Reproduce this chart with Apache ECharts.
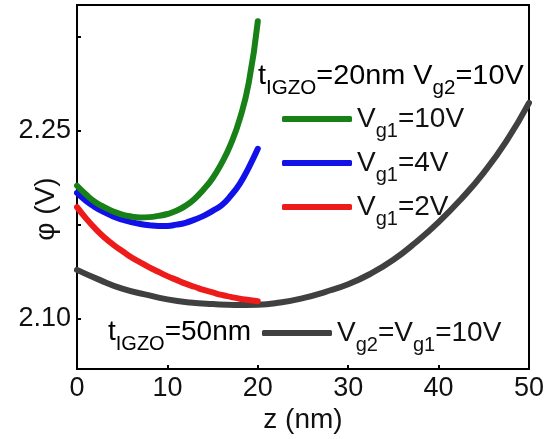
<!DOCTYPE html>
<html>
<head>
<meta charset="utf-8">
<script src="https://cdn.jsdelivr.net/npm/echarts@6/dist/echarts.min.js"></script>
<style>
  html, body { margin: 0; padding: 0; background: #fff; }
  #chart { width: 559px; height: 439px; }
</style>
</head>
<body>
<div id="chart"></div>
<script>
// values: z in nm, phi in V
const zShort = [0, 1, 2, 3, 4, 5, 6, 7, 8, 9, 10, 11, 12, 13, 14, 15, 16, 17, 18, 19, 20];
const phiGreen = [2.206, 2.199, 2.193, 2.189, 2.1855, 2.183, 2.1815, 2.1808, 2.181, 2.182, 2.1835,
  2.186, 2.190, 2.1955, 2.203, 2.212, 2.224, 2.239, 2.259, 2.288, 2.337];
const phiBlue = [2.2003, 2.194, 2.189, 2.185, 2.1815, 2.179, 2.177, 2.1755, 2.1745, 2.174, 2.174,
  2.175, 2.1765, 2.179, 2.182, 2.186, 2.1905, 2.198, 2.2075, 2.2205, 2.2354];
const phiRed = [2.189, 2.180, 2.172, 2.165, 2.159, 2.154, 2.149, 2.145, 2.141, 2.1375, 2.134,
  2.131, 2.128, 2.1255, 2.123, 2.121, 2.119, 2.1175, 2.116, 2.115, 2.114];

const zLong = [0, 2.5, 5, 7.5, 10, 12.5, 15, 17.5, 20, 22.5, 25, 27.5, 30, 32.5, 35, 37.5, 40, 42.5, 45, 47.5, 50];
const phiBlack = [2.139, 2.131, 2.124, 2.1195, 2.1155, 2.113, 2.1117, 2.111, 2.1112, 2.113, 2.1165,
  2.1215, 2.1275, 2.136, 2.147, 2.161, 2.177, 2.1955, 2.2165, 2.2415, 2.272];

const xTicks = [0, 10, 20, 30, 40, 50];
const yLabels = [2.10, 2.25];
const yTicks = [2.10, 2.175, 2.25, 2.325];

const FONT = 'Liberation Sans, Arial, sans-serif';
const rich = {
  n: { fontSize: 28, fontFamily: FONT, color: '#111', lineHeight: 42 },
  s: { fontSize: 20, fontFamily: FONT, color: '#111', lineHeight: 18, padding: [24, 0, 0, 0] }
};

const legendText = {
  'Vg1=10V': '{n|V}{s|g1}{n|=10V}',
  'Vg1=4V': '{n|V}{s|g1}{n|=4V}',
  'Vg1=2V': '{n|V}{s|g1}{n|=2V}',
  'tIGZO=50nm': '{n|V}{s|g2}{n|=V}{s|g1}{n|=10V}'
};

const pairs = (xs, ys) => xs.map((x, i) => [x, ys[i]]);

const lineSeries = (name, color, xs, ys) => ({
  name,
  type: 'line',
  smooth: 0.5,
  showSymbol: false,
  color,
  lineStyle: { width: 6, color, cap: 'round' },
  data: pairs(xs, ys)
});

const chart = echarts.init(document.getElementById('chart'));

chart.setOption({
  animation: false,
  backgroundColor: '#fff',
  grid: {
    left: 77, top: 5, right: 30, bottom: 70,
    outerBoundsMode: 'none',
    containLabel: false,
    show: true, borderColor: '#000', borderWidth: 2
  },
  xAxis: {
    type: 'value', min: 0, max: 50, interval: 10,
    name: 'z (nm)', nameLocation: 'middle', nameGap: 37, nameMoveOverlap: false,
    nameTextStyle: { fontSize: 28, fontFamily: FONT, color: '#111' },
    axisLine: { show: true, lineStyle: { color: '#000', width: 2 } },
    axisTick: { show: true, inside: true, length: 4, lineStyle: { color: '#000', width: 2 }, customValues: xTicks.slice(1, -1) },
    axisLabel: { fontSize: 27, fontFamily: FONT, color: '#111', margin: 6, customValues: xTicks },
    splitLine: { show: false }
  },
  yAxis: {
    type: 'value', min: 2.06, max: 2.35,
    name: 'φ (V)', nameLocation: 'middle', nameGap: 17, nameRotate: 90, nameMoveOverlap: false,
    nameTextStyle: { fontSize: 28, fontFamily: FONT, color: '#111', padding: [0, 44, 0, 0] },
    axisLine: { show: true, lineStyle: { color: '#000', width: 2 } },
    axisTick: { show: true, inside: true, length: 4, lineStyle: { color: '#000', width: 2 }, customValues: yTicks },
    axisLabel: { fontSize: 27, fontFamily: FONT, color: '#111', margin: 6, customValues: yLabels, formatter: v => v.toFixed(2) },
    splitLine: { show: false }
  },
  legend: [
    {
      data: ['Vg1=10V', 'Vg1=4V', 'Vg1=2V'],
      orient: 'vertical', left: 282, top: 97, itemGap: 0, padding: 0,
      icon: 'roundRect', itemWidth: 70, itemHeight: 6,
      selectedMode: false,
      formatter: name => legendText[name],
      textStyle: { rich }
    },
    {
      data: ['tIGZO=50nm'],
      left: 262, top: 311, padding: 0,
      icon: 'roundRect', itemWidth: 70, itemHeight: 6,
      selectedMode: false,
      formatter: name => legendText[name],
      textStyle: { rich }
    }
  ],
  graphic: [
    {
      type: 'text', x: 258, y: 76, scaleX: 1.03,
      style: { text: '{n|t}{s|IGZO}{n|=20nm V}{s|g2}{n|=10V}', rich, verticalAlign: 'middle' }
    },
    {
      type: 'text', x: 108, y: 332,
      style: { text: '{n|t}{s|IGZO}{n|=50nm}', rich, verticalAlign: 'middle' }
    }
  ],
  series: [
    lineSeries('tIGZO=50nm', '#404040', zLong, phiBlack),
    lineSeries('Vg1=2V', '#ee1b1b', zShort, phiRed),
    lineSeries('Vg1=4V', '#1212e8', zShort, phiBlue),
    lineSeries('Vg1=10V', '#178017', zShort, phiGreen)
  ]
});
</script>
</body>
</html>
